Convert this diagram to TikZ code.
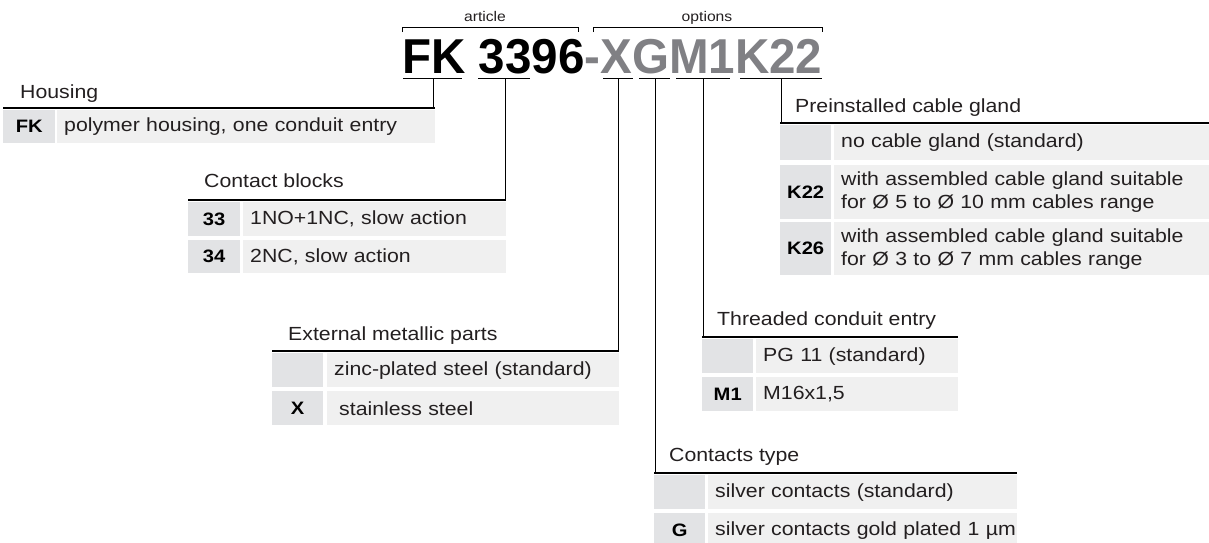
\documentclass[tikz,border=0pt]{standalone}
\usepackage{fontspec}
\setmainfont{Liberation Sans}[FakeStretch=1.12]
\newfontfamily\titlefont{Liberation Sans}[FakeStretch=0.97]
\definecolor{codegray}{HTML}{E2E3E5}
\definecolor{descgray}{HTML}{F0F0F0}
\definecolor{optgray}{HTML}{808084}
\definecolor{txtgray}{HTML}{231F20}
\tikzset{
  hdr/.style={anchor=base west, inner sep=0pt, text=txtgray, font=\fontsize{19}{23}\selectfont},
  codecell/.style={anchor=north west, fill=codegray, inner sep=0pt, font=\fontsize{18}{22}\selectfont\bfseries},
  desccell/.style={anchor=north west, fill=descgray, inner xsep=7pt, inner ysep=0pt, align=left, text=txtgray, font=\fontsize{19}{23}\selectfont},
  rule/.style={line width=1.8pt},
  link/.style={line width=0.9pt},
}

\begin{document}
\begin{tikzpicture}[x=1pt,y=-1pt]
    \useasboundingbox (0,0) rectangle (1209,542);
    % order code
    \node[anchor=base west, inner sep=0pt, font=\titlefont\fontsize{49}{49}\selectfont\bfseries] (code) at (402,73) {FK 3396\textcolor{optgray}{-XGM1K22}};
    \coordinate (artL) at (402,27);
    \coordinate (artR) at (578,27);
    \coordinate (optL) at (593,27);
    \coordinate (optR) at (822,27);
    \draw[link] ([yshift=-5pt]artL) -- (artL) -- (artR) -- ([yshift=-5pt]artR);
    \draw[link] ([yshift=-5pt]optL) -- (optL) -- (optR) -- ([yshift=-5pt]optR);
    \node[anchor=base, inner sep=0pt, text=txtgray, font=\fontsize{14}{14}\selectfont] (article) at (485,21) {article};
    \node[anchor=base, inner sep=0pt, text=txtgray, font=\fontsize{14}{14}\selectfont] (options) at (707,21) {options};
    % underlines
    \draw[link] (403,78) -- (462,78);
    \draw[link] (478,78) -- (530,78);
    \draw[link] (603,78) -- (633,78);
    \draw[link] (639,78) -- (670,78);
    \draw[link] (676,78) -- (730,78);
    \draw[link] (740,78) -- (822,78);
    \coordinate (uFK) at (433,78);
    \coordinate (uCB) at (505,78);
    \coordinate (uX) at (618,78);
    \coordinate (uG) at (655,78);
    \coordinate (uM) at (703,78);
    \coordinate (uK) at (781,78);

    % housing
    \node[hdr] (housing) at (20,98) {Housing};
    \coordinate (rHou) at (433,108);
    \draw[rule] (3,108) -- (435,108);
    \node[codecell, minimum width=52pt, minimum height=33pt] (fk) at (3,110) {FK};
    \node[desccell, text width=364pt, minimum height=33pt] (fkd) at (57,110) {polymer housing, one conduit entry};
    \draw[link] (uFK) -- (rHou);

    % contact blocks
    \node[hdr] (contact) at (204,187) {Contact blocks};
    \coordinate (rCon) at (505,200);
    \draw[rule] (188,200) -- (506,200);
    \node[codecell, minimum width=52pt, minimum height=34pt] (c33) at (188,202) {33};
    \node[desccell, text width=249pt, minimum height=34pt] (c33d) at (243,202) {1NO+1NC, slow action};
    \node[codecell, minimum width=52pt, minimum height=33pt] (c34) at (188,240) {34};
    \node[desccell, text width=249pt, minimum height=33pt] (c34d) at (243,240) {2NC, slow action};
    \draw[link] (uCB) -- (rCon);

    % external metallic parts
    \node[hdr] (metal) at (288,340) {External metallic parts};
    \coordinate (rMet) at (618,351);
    \draw[rule] (272,351) -- (619,351);
    \node[codecell, minimum width=51pt, minimum height=34pt] (m0) at (272,353) {};
    \node[desccell, text width=278pt, minimum height=34pt] (m0d) at (327,353) {zinc-plated steel (standard)};
    \node[codecell, minimum width=51pt, minimum height=34pt] (mx) at (272,391) {X};
    \node[desccell, text width=278pt, minimum height=34pt] (mxd) at (327,391) {\hspace{5pt}stainless steel};
    \draw[link] (uX) -- (rMet);

    % threaded conduit entry
    \node[hdr] (thread) at (717,325) {Threaded conduit entry};
    \coordinate (rThr) at (703,337);
    \draw[rule] (702,337) -- (958,337);
    \node[codecell, minimum width=51pt, minimum height=34pt] (t0) at (702,339) {};
    \node[desccell, text width=188pt, minimum height=34pt] (t0d) at (756,339) {PG 11 (standard)};
    \node[codecell, minimum width=51pt, minimum height=34pt] (tm) at (702,377) {M1};
    \node[desccell, text width=188pt, minimum height=34pt] (tmd) at (756,377) {M16x1,5};
    \draw[link] (uM) -- (rThr);

    % contacts type
    \node[hdr] (ctype) at (669,461) {Contacts type};
    \coordinate (rTyp) at (655,473);
    \draw[rule] (654,473) -- (1017,473);
    \node[codecell, minimum width=51pt, minimum height=34pt] (g0) at (654,475) {};
    \node[desccell, text width=295pt, minimum height=34pt] (g0d) at (708,475) {silver contacts (standard)};
    \node[codecell, minimum width=51pt, minimum height=34pt] (gg) at (654,513) {G};
    \node[desccell, text width=295pt, minimum height=34pt] (ggd) at (708,513) {\mbox{silver contacts gold plated 1 µm}};
    \draw[link] (uG) -- (rTyp);

    % preinstalled cable gland
    \node[hdr] (gland) at (795,112) {Preinstalled cable gland};
    \coordinate (rGla) at (781,123);
    \draw[rule] (780,123) -- (1209,123);
    \node[codecell, minimum width=51pt, minimum height=35pt] (k0) at (780,125) {};
    \node[desccell, text width=361pt, minimum height=35pt] (k0d) at (834,125) {no cable gland (standard)};
    \node[codecell, minimum width=51pt, minimum height=54pt] (k22) at (780,165) {K22};
    \node[desccell, text width=361pt, minimum height=54pt] (k22d) at (834,165) {with assembled cable gland suitable\\for Ø 5 to Ø 10 mm cables range};
    \node[codecell, minimum width=51pt, minimum height=53pt] (k26) at (780,222) {K26};
    \node[desccell, text width=361pt, minimum height=53pt] (k26d) at (834,222) {with assembled cable gland suitable\\for Ø 3 to Ø 7 mm cables range};
    \draw[link] (uK) -- (rGla);
\end{tikzpicture}
\end{document}
